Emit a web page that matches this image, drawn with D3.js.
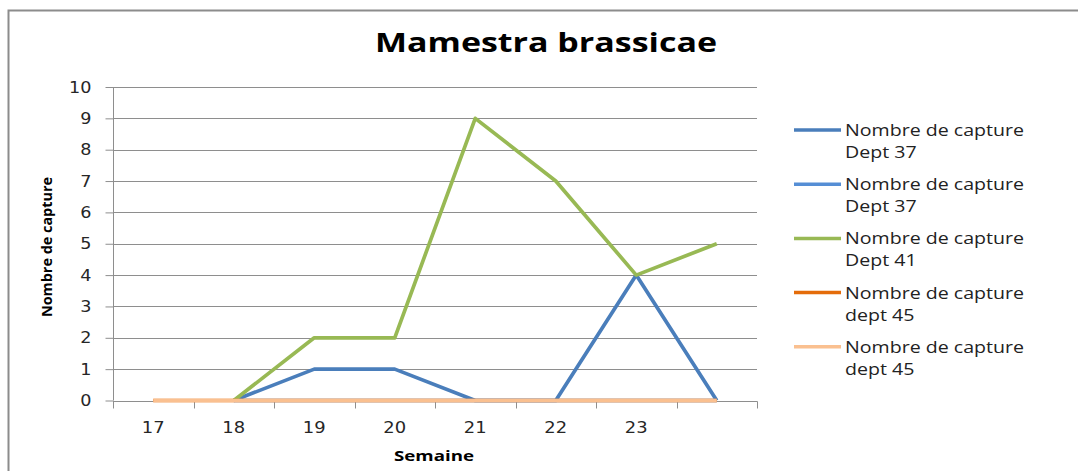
<!DOCTYPE html>
<html>
<head>
<meta charset="utf-8">
<script src="https://cdn.jsdelivr.net/npm/d3@7"></script>
<style>
  body { margin: 0; background: #fff; }
  svg { display: block; }
</style>
</head>
<body>
<svg></svg>
<script>
let weeks = ["17", "18", "19", "20", "21", "22", "23", ""];
let dept37a = [null, 0, 1, 1, 0, 0, 4, 0];
let dept37b = [null, 0, 0, 0, 0, 0, 0, 0];
let dept41 = [null, 0, 2, 2, 9, 7, 4, 5];
let dept45a = [0, 0, 0, 0, 0, 0, 0, 0];
let dept45b = [0, 0, 0, 0, 0, 0, 0, 0];
let seriesNames = [
    ["Nombre de capture", "Dept 37"],
    ["Nombre de capture", "Dept 37"],
    ["Nombre de capture", "Dept 41"],
    ["Nombre de capture", "dept 45"],
    ["Nombre de capture", "dept 45"]
];
let seriesColors = ["#4a7ebb", "#558ed5", "#98b954", "#e46c0a", "#fac090"];
let yTicks = [0, 1, 2, 3, 4, 5, 6, 7, 8, 9, 10];

let width = 1078;
let height = 471;
let plot = { left: 113, right: 757, top: 87, bottom: 400.5 };

let svg = d3.select("svg").attr("width", width).attr("height", height);

// chart frame
svg.append("rect")
    .attr("x", 8.5).attr("y", 10.5)
    .attr("width", 1100).attr("height", 500)
    .attr("fill", "#fff")
    .attr("stroke", "#8c8c8c")
    .attr("stroke-width", 2);

let xScale = d3.scaleBand().domain(d3.range(weeks.length)).range([plot.left, plot.right]);
let yScale = d3.scaleLinear().domain([0, 10]).range([plot.bottom, plot.top]);

// stretch a text horizontally like the reference rendering
let stretch = (sel, k) => {
    sel.each(function () {
        let w = this.getComputedTextLength();
        if (w > 0) {
            d3.select(this).attr("textLength", w * k).attr("lengthAdjust", "spacingAndGlyphs");
        }
    });
};

// gridlines
svg.append("g")
    .selectAll("line")
    .data(yTicks.filter(d => d > 0))
    .enter()
    .append("line")
    .attr("x1", plot.left).attr("x2", plot.right)
    .attr("y1", d => Math.round(yScale(d)) + 0.5)
    .attr("y2", d => Math.round(yScale(d)) + 0.5)
    .attr("stroke", "#8e8e8e")
    .attr("stroke-width", 1);

// y axis
let yAxis = d3.axisLeft(yScale).tickValues(yTicks).tickSize(8).tickPadding(14);
let gy = svg.append("g")
    .attr("transform", `translate(${plot.left + 0.5}, 0)`)
    .call(yAxis);
gy.select(".domain").attr("stroke", "#8e8e8e").attr("d", `M0,${plot.top}V${plot.bottom}`);
gy.selectAll(".tick line").attr("stroke", "#8e8e8e");
gy.selectAll("text")
    .attr("font-family", "DejaVu Sans")
    .attr("font-size", 16)
    .attr("fill", "#262626")
    .call(stretch, 1.1);

// x axis (category axis with ticks between categories)
let gx = svg.append("g").attr("transform", `translate(0, ${Math.round(plot.bottom) + 0.5})`);
gx.append("line")
    .attr("x1", plot.left).attr("x2", plot.right + 0.5)
    .attr("stroke", "#8e8e8e");
gx.selectAll(".xtick")
    .data(d3.range(weeks.length + 1))
    .enter()
    .append("line")
    .attr("x1", d => Math.round(plot.left + d * xScale.bandwidth()) + 0.5)
    .attr("x2", d => Math.round(plot.left + d * xScale.bandwidth()) + 0.5)
    .attr("y1", 0).attr("y2", 7)
    .attr("stroke", "#8e8e8e");
gx.selectAll(".xlabel")
    .data(weeks)
    .enter()
    .append("text")
    .attr("x", (d, i) => xScale(i) + xScale.bandwidth() / 2)
    .attr("y", 31)
    .attr("text-anchor", "middle")
    .attr("font-family", "DejaVu Sans")
    .attr("font-size", 16)
    .attr("fill", "#262626")
    .text(d => d)
    .call(stretch, 1.12);

// lines
let allSeries = [dept37a, dept37b, dept41, dept45a, dept45b];
let line = d3.line()
    .defined(d => d !== null)
    .x((d, i) => xScale(i) + xScale.bandwidth() / 2)
    .y(d => yScale(d));

svg.append("g")
    .selectAll("path")
    .data(allSeries)
    .enter()
    .append("path")
    .attr("d", d => line(d))
    .attr("fill", "none")
    .attr("stroke", (d, i) => seriesColors[i])
    .attr("stroke-width", 3.7)
    .attr("stroke-linejoin", "round");

// title
svg.append("text")
    .attr("x", 546).attr("y", 52)
    .attr("text-anchor", "middle")
    .attr("font-family", "Open Sans")
    .attr("font-weight", "bold")
    .attr("font-size", 27)
    .attr("textLength", 342)
    .attr("lengthAdjust", "spacingAndGlyphs")
    .attr("fill", "#000")
    .text("Mamestra brassicae");

// axis titles
svg.append("text")
    .attr("transform", "translate(52, 247) rotate(-90)")
    .attr("text-anchor", "middle")
    .attr("font-family", "Open Sans")
    .attr("font-weight", "bold")
    .attr("font-size", 14.5)
    .attr("textLength", 140)
    .attr("lengthAdjust", "spacingAndGlyphs")
    .text("Nombre de capture");

svg.append("text")
    .attr("x", 434).attr("y", 461)
    .attr("text-anchor", "middle")
    .attr("font-family", "Open Sans")
    .attr("font-weight", "bold")
    .attr("font-size", 15)
    .attr("textLength", 80)
    .attr("lengthAdjust", "spacingAndGlyphs")
    .text("Semaine");

// legend
let legend = svg.append("g")
    .selectAll("g")
    .data(seriesNames)
    .enter()
    .append("g")
    .attr("transform", (d, i) => `translate(794, ${130 + i * 54.2})`);

legend.append("line")
    .attr("x1", 0).attr("x2", 47)
    .attr("stroke", (d, i) => seriesColors[i])
    .attr("stroke-width", 3.5);

legend.each(function (d) {
    let g = d3.select(this);
    let t1 = g.append("text")
        .attr("x", 51).attr("y", 6)
        .attr("font-family", "Open Sans")
        .attr("font-size", 16.5)
        .attr("fill", "#222")
        .text(d[0]);
    let w1 = t1.node().getComputedTextLength();
    let ratio = 179 / w1;
    t1.attr("textLength", 179).attr("lengthAdjust", "spacingAndGlyphs");
    let t2 = g.append("text")
        .attr("x", 51).attr("y", 28)
        .attr("font-family", "Open Sans")
        .attr("font-size", 16.5)
        .attr("fill", "#222")
        .text(d[1]);
    let w2 = t2.node().getComputedTextLength();
    t2.attr("textLength", w2 * ratio).attr("lengthAdjust", "spacingAndGlyphs");
});
</script>
</body>
</html>
